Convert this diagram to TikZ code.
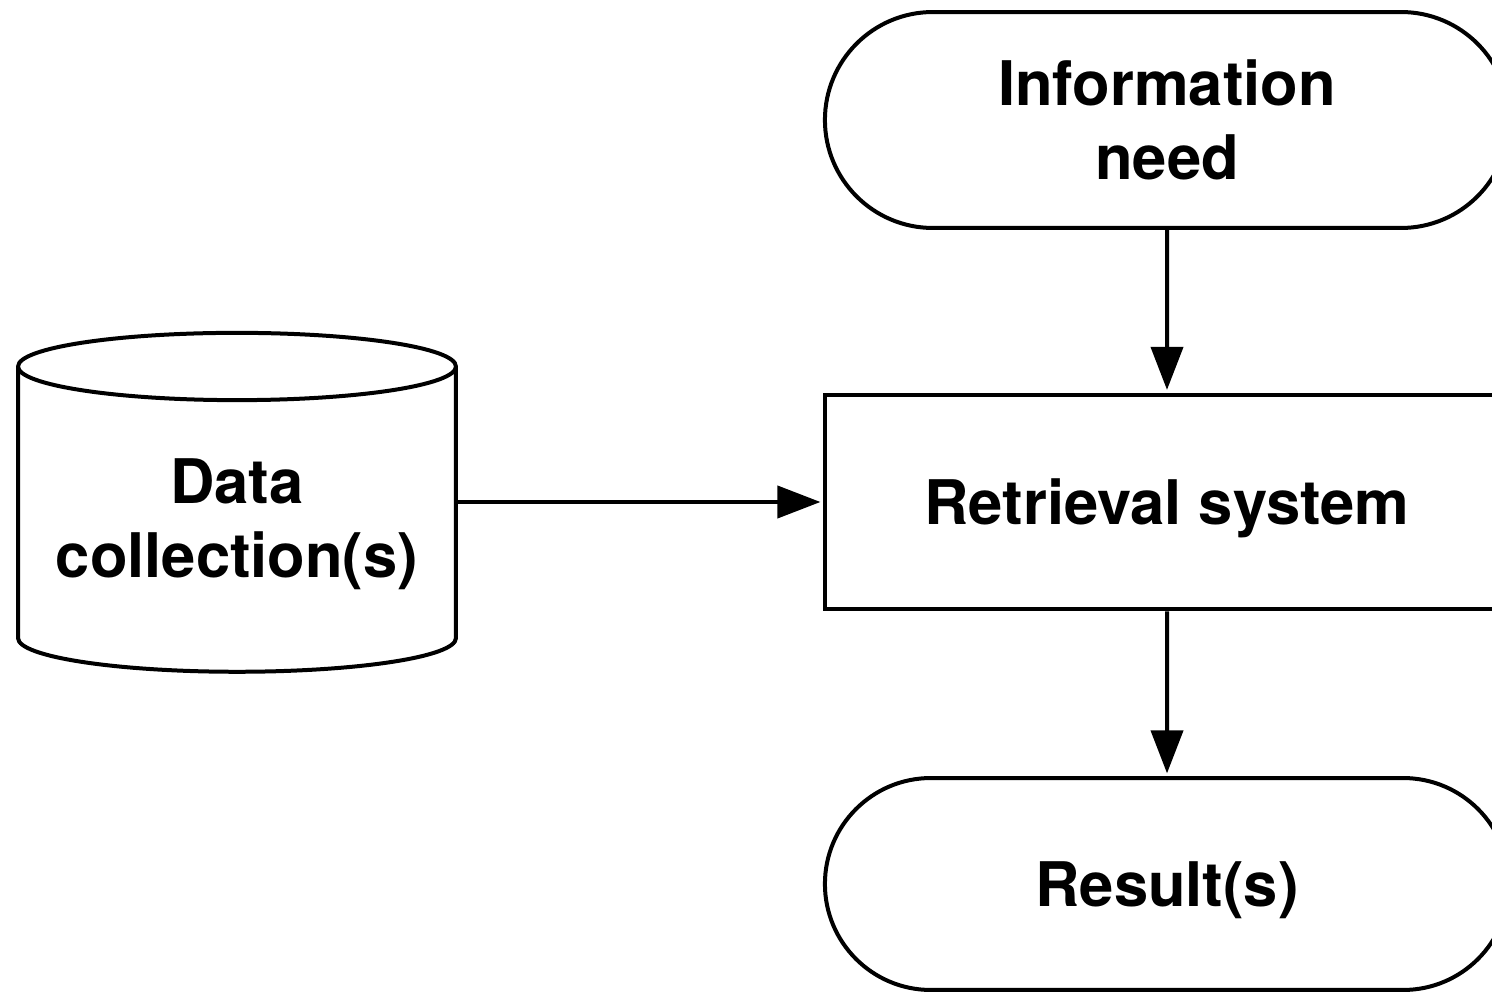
\documentclass[tikz,border=0pt]{standalone}
\usepackage{fontspec}
\setmainfont{TeX Gyre Heros}
\usepackage{tikz}
\usetikzlibrary{shapes.misc}
\usetikzlibrary{shapes.geometric}
\usetikzlibrary{arrows.meta}
\tikzset{
    lbl/.style={
        font=\bfseries\fontsize{35}{42}\selectfont,
        align=center,
        line width=0.08cm,
        draw
    },
    term/.style={
        lbl,
        rounded rectangle,
        minimum width=13.92cm,
        minimum height=#1
    },
    term/.default=4.32cm,
    proc/.style={
        lbl,
        rectangle,
        minimum width=13.68cm,
        minimum height=4.30cm
    },
    store/.style={
        lbl,
        cylinder,
        shape border rotate=90,
        aspect=0.18,
        minimum width=8.76cm,
        minimum height=6.78cm
    },
    oneline/.style={
        text height=26pt,
        text depth=0pt
    },
    arr/.style={
        line width=0.08cm,
        -{Triangle[length=0.86cm,width=0.64cm]},
        shorten >=1.5pt
    }
}

\begin{document}
\begin{tikzpicture}[x=0.02cm,y=0.02cm]
		\useasboundingbox (0,0) rectangle (1492,992);
		\clip (0,0) rectangle (1492,992);

		% Right column
		\node[term] (need) at (1167,872) {Information\\need};
		\node[proc,oneline] (sys) at (1167,490) {Retrieval system};
		\node[term=4.24cm,oneline] (res) at (1167,108) {Result(s)};

		% Left side
		\node[store] (data) at (237,468) {Data\\collection(s)};

		% Connectors
		\draw[arr] (need) -- (sys);
		\draw[arr] (data.east |- sys.west) -- (sys.west);
		\draw[arr] (sys) -- (res);
	\end{tikzpicture}
\end{document}
